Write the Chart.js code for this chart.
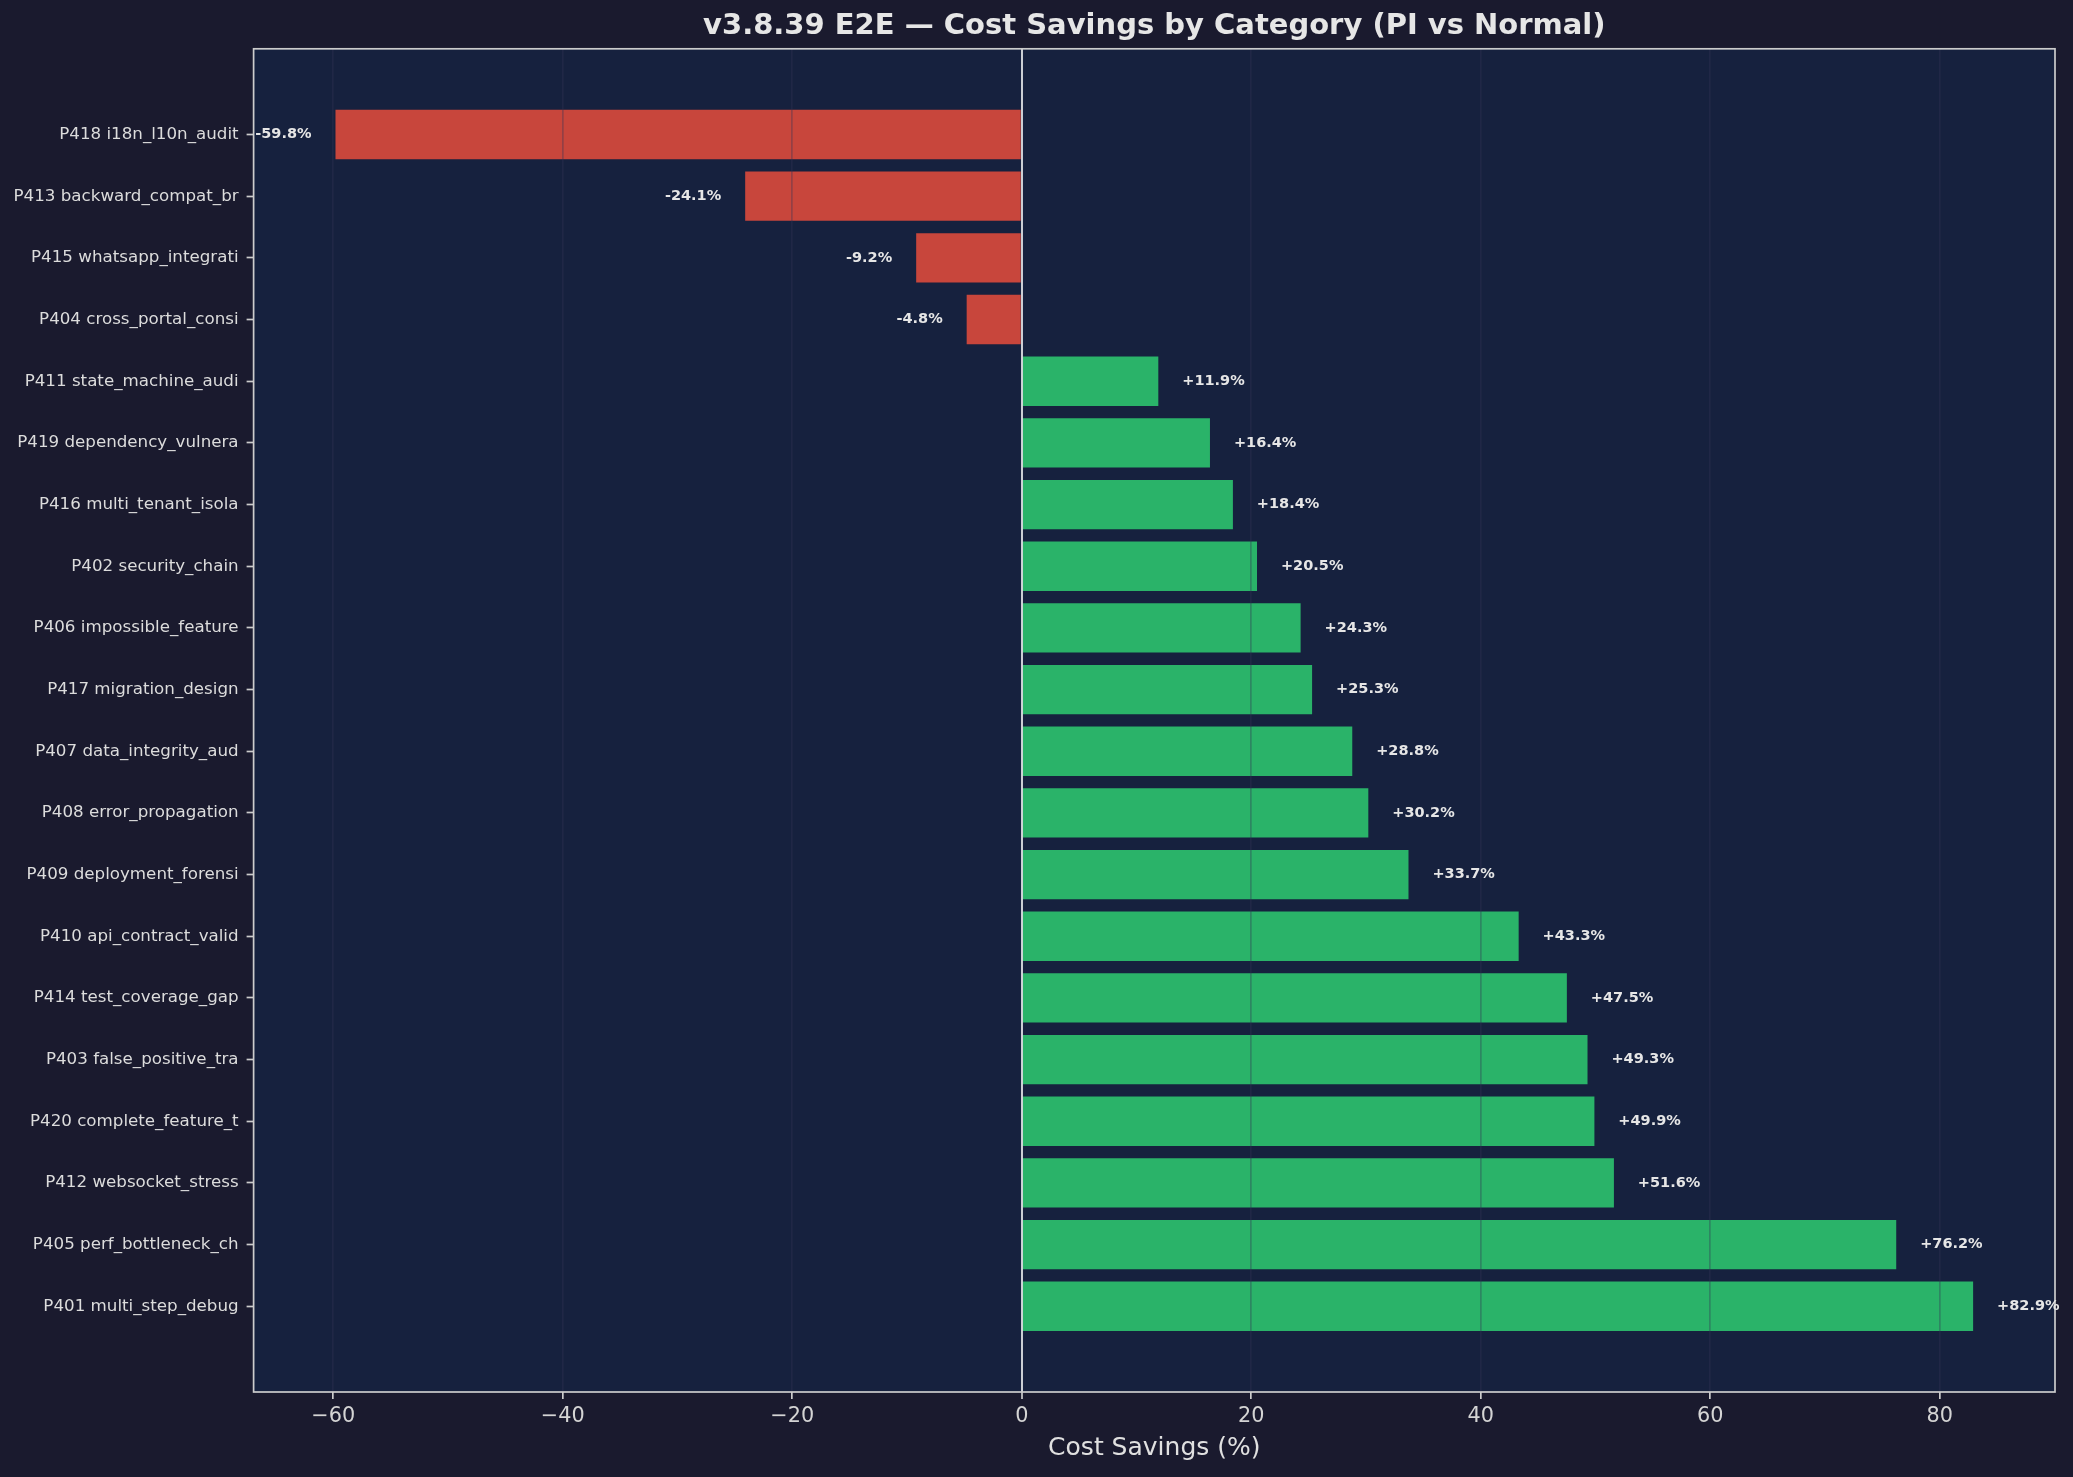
<!DOCTYPE html>
<html>
<head>
<meta charset="utf-8">
<script src="https://cdn.jsdelivr.net/npm/chart.js@4.4.1/dist/chart.umd.min.js"></script>
<style>
  html, body { margin: 0; padding: 0; background: #1a1a2e; }
  #wrap { width: 2073px; height: 1477px; }
</style>
</head>
<body>
<div id="wrap"><canvas id="savingsChart"></canvas></div>
<script>
// Data (top to bottom)
const categories = [
    'P418 i18n_l10n_audit', 'P413 backward_compat_br', 'P415 whatsapp_integrati',
    'P404 cross_portal_consi', 'P411 state_machine_audi', 'P419 dependency_vulnera',
    'P416 multi_tenant_isola', 'P402 security_chain', 'P406 impossible_feature',
    'P417 migration_design', 'P407 data_integrity_aud', 'P408 error_propagation',
    'P409 deployment_forensi', 'P410 api_contract_valid', 'P414 test_coverage_gap',
    'P403 false_positive_tra', 'P420 complete_feature_t', 'P412 websocket_stress',
    'P405 perf_bottleneck_ch', 'P401 multi_step_debug'
];
const savings = [-59.8, -24.1, -9.2, -4.8, 11.9, 16.4, 18.4, 20.5, 24.3, 25.3,
                 28.8, 30.2, 33.7, 43.3, 47.5, 49.3, 49.9, 51.6, 76.2, 82.9];
const xTicks = [-60, -40, -20, 0, 20, 40, 60, 80];

const RED = 'rgba(231, 76, 60, 0.85)';
const GREEN = 'rgba(46, 204, 113, 0.85)';
const GRID = 'rgba(51, 51, 85, 0.35)';

Chart.defaults.font.family = "'DejaVu Sans', sans-serif";

// background + frame + value labels
const decor = {
    id: 'decor',
    beforeDraw(chart) {
        const { ctx, chartArea: a } = chart;
        ctx.save();
        ctx.fillStyle = '#1a1a2e';
        ctx.fillRect(0, 0, chart.width, chart.height);
        ctx.fillStyle = '#16213e';
        ctx.fillRect(a.left, a.top, a.right - a.left, a.bottom - a.top);
        ctx.restore();
    },
    afterDraw(chart) {
        const { ctx, chartArea: a } = chart;
        const xs = chart.scales.x;
        ctx.save();
        ctx.strokeStyle = '#cccccc';
        ctx.lineWidth = 1.7;
        ctx.strokeRect(a.left, a.top, a.right - a.left, a.bottom - a.top);

        ctx.font = "bold 14.5px 'DejaVu Sans'";
        ctx.fillStyle = '#e6e6e6';
        ctx.textBaseline = 'middle';
        chart.getDatasetMeta(0).data.forEach((bar, i) => {
            const v = savings[i];
            if (v >= 0) {
                ctx.textAlign = 'left';
                ctx.fillText('+' + v.toFixed(1) + '%', xs.getPixelForValue(v + 2) + 1, bar.y);
            } else {
                ctx.textAlign = 'right';
                ctx.fillText(v.toFixed(1) + '%', xs.getPixelForValue(v - 2) - 1, bar.y);
            }
        });
        ctx.restore();
    }
};

new Chart(document.getElementById('savingsChart'), {
    type: 'bar',
    data: {
        datasets: [{
            data: savings.map((v, i) => ({ x: v, y: i })),
            backgroundColor: savings.map(v => v < 0 ? RED : GREEN),
            borderWidth: 0,
            barPercentage: 0.8,
            categoryPercentage: 1.0
        }]
    },
    options: {
        indexAxis: 'y',
        responsive: true,
        maintainAspectRatio: false,
        animation: false,
        devicePixelRatio: 1,
        layout: { padding: { left: 0, right: 18, top: 0, bottom: 0 } },
        plugins: {
            legend: { display: false },
            tooltip: { enabled: false },
            title: {
                display: true,
                fullSize: false,
                text: 'v3.8.39 E2E — Cost Savings by Category (PI vs Normal)',
                color: '#e6e6e6',
                font: { size: 29, weight: 'bold' },
                padding: { top: 9, bottom: 5 }
            }
        },
        scales: {
            x: {
                type: 'linear',
                min: -66.935,
                max: 90.035,
                afterBuildTicks: axis => { axis.ticks = xTicks.map(v => ({ value: v })); },
                afterFit: axis => { axis.height = 85; },
                border: { display: false },
                grid: {
                    z: 1,
                    color: c => c.tick && c.tick.value === 0 ? 'rgba(255,255,255,0.78)' : GRID,
                    lineWidth: c => c.tick && c.tick.value === 0 ? 2 : 1.7,
                    tickColor: '#cccccc',
                    tickWidth: 1.7,
                    tickLength: 7
                },
                ticks: {
                    color: '#d4d4d4',
                    font: { size: 20.8 },
                    padding: 5,
                    callback: v => v < 0 ? '\u2212' + Math.abs(v) : String(v)
                },
                title: {
                    display: true,
                    text: 'Cost Savings (%)',
                    color: '#e0e0e0',
                    font: { size: 25 },
                    padding: { top: 0, bottom: 14 }
                }
            },
            y: {
                type: 'linear',
                reverse: true,
                offset: false,
                min: -1.39,
                max: 20.39,
                afterBuildTicks: axis => { axis.ticks = categories.map((c, i) => ({ value: i })); },
                afterFit: axis => { axis.width = 253.6; },
                border: { display: false },
                grid: {
                    offset: false,
                    drawOnChartArea: false,
                    tickColor: '#cccccc',
                    tickWidth: 1.7,
                    tickLength: 7
                },
                ticks: {
                    autoSkip: false,
                    color: '#dcdcdc',
                    font: { size: 16.7 },
                    padding: 8,
                    callback: v => categories[v]
                }
            }
        }
    },
    plugins: [decor]
});
</script>
</body>
</html>
